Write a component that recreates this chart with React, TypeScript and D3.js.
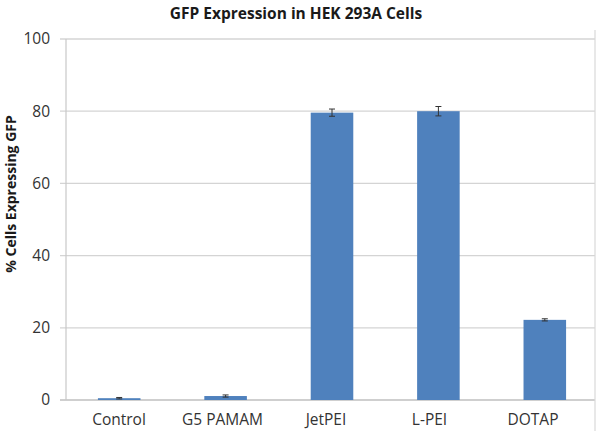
import React from "react";
import * as d3 from "d3";

const categories = ["Control", "G5 PAMAM", "JetPEI", "L-PEI", "DOTAP"];
const values = [0.5, 1.1, 79.6, 80.0, 22.2];
const errors = [0.2, 0.3, 1.0, 1.3, 0.3];
const yTicks = [0, 20, 40, 60, 80, 100];

const W = 600;
const H = 431;
const left = 66;
const right = 598;
const top = 39;
const bottom = 400;
const font = "'Open Sans', sans-serif";

export default function App() {
  const x = d3.scaleBand<string>().domain(categories).range([left, right]).paddingInner(0.6).paddingOuter(0.3);
  const xl = d3.scalePoint<string>().domain(categories).range([119, 533]);
  const y = d3.scaleLinear().domain([0, 100]).range([bottom, top]);
  const bw = x.bandwidth();
  return (
    <svg width={W} height={H} style={{ position: "absolute", left: 0, top: 0, background: "#fff" }}>
      <rect x={0} y={0} width={W} height={H} fill="#fff" />
      <text x={296} y={19} textAnchor="middle" fontFamily={font} fontWeight="bold" fontSize={15.5} fill="#1a1a1a">
        GFP Expression in HEK 293A Cells
      </text>
      {yTicks.map((t) => (
        <g key={t}>
          <line x1={60} x2={595} y1={y(t)} y2={y(t)} stroke={t === 0 ? "#bfbfbf" : "#d4d4d4"} strokeWidth={1.3} />
          <text x={50} y={y(t)} dy="0.35em" textAnchor="end" fontFamily={font} fontSize={15.5} fill="#333">
            {t}
          </text>
        </g>
      ))}
      <line x1={66} x2={66} y1={top} y2={bottom} stroke="#c8c8c8" strokeWidth={1.2} />
      <line x1={595} x2={595} y1={30} y2={H} stroke="#d9d9d9" strokeWidth={1.2} />
      {categories.map((c, i) => {
        const cx = (x(c) as number) + bw / 2;
        return (
          <g key={c}>
            <rect x={x(c)} y={y(values[i])} width={bw} height={y(0) - y(values[i])} fill="#4f81bd" />
            <line x1={cx} x2={cx} y1={y(values[i] + errors[i])} y2={y(values[i] - errors[i])} stroke="#333" strokeWidth={1} />
            <line x1={cx - 3} x2={cx + 3} y1={y(values[i] + errors[i])} y2={y(values[i] + errors[i])} stroke="#333" strokeWidth={1} />
            <line x1={cx - 3} x2={cx + 3} y1={y(values[i] - errors[i])} y2={y(values[i] - errors[i])} stroke="#333" strokeWidth={1} />
            <text x={xl(c)} y={425} textAnchor="middle" fontFamily={font} fontSize={15.5} fill="#333">
              {c}
            </text>
          </g>
        );
      })}
      <text transform={`translate(16,194) rotate(-90)`} textAnchor="middle" fontFamily={font} fontWeight="bold" fontSize={14} fill="#1a1a1a">
        % Cells Expressing GFP
      </text>
    </svg>
  );
}
